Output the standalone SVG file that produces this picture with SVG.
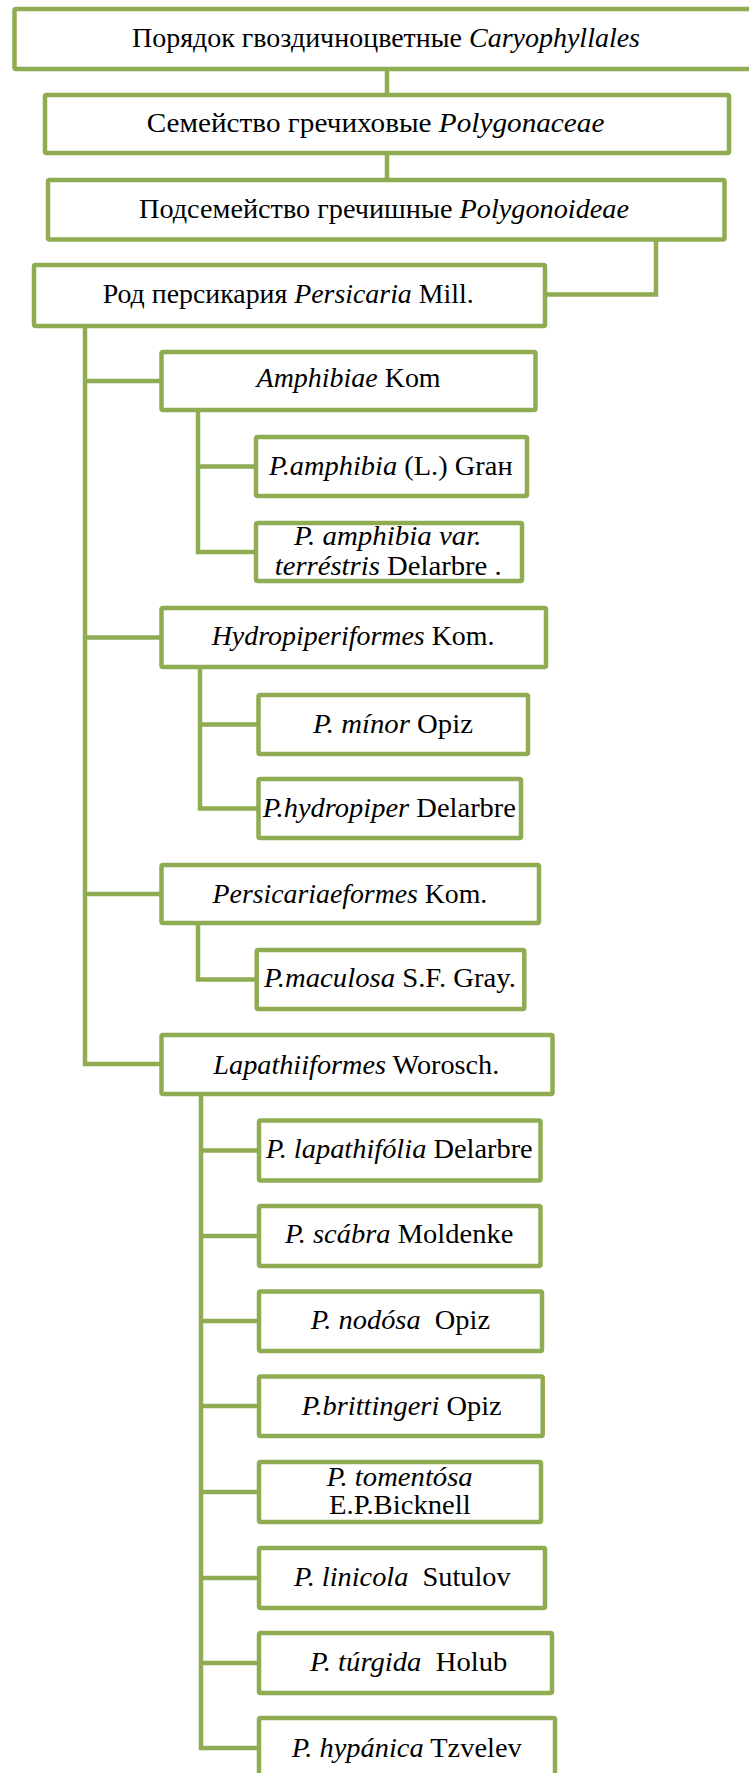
<svg xmlns="http://www.w3.org/2000/svg" width="749" height="1773" viewBox="0 0 749 1773">
<style>
.box{fill:#fff;stroke:#8FAC52;stroke-width:4.5}
.ln{fill:none;stroke:#8FAC52;stroke-width:4.5;stroke-linejoin:miter}
text{font-family:"Liberation Serif","Times New Roman",serif;font-size:28px;fill:#000}
.i{font-style:italic}
</style>
<rect width="749" height="1773" fill="#fff"/>
<g id="connectors">
<path class="ln" d="M387,69V95M387,153V180M656,239.5V294.5H545"/>
<path class="ln" d="M85,326V1064H162M85,381H162M85,637.5H162M85,894H162"/>
<path class="ln" d="M198,410V552H256M198,466.5H256"/>
<path class="ln" d="M200,667V808.5H258.5M200,724.5H258.5"/>
<path class="ln" d="M198,923V979.5H256.7"/>
<path class="ln" d="M201,1094V1748H259M201,1150.5H259M201,1236H259M201,1321H259M201,1406H259M201,1492H259M201,1578H259M201,1663H259"/>
</g>
<g id="order"><rect class="box" x="14.5" y="9" width="750" height="60" rx="1.5"/><text x="132" y="46.7" textLength="508" lengthAdjust="spacingAndGlyphs">Порядок гвоздичноцветные <tspan class="i">Caryophyllales</tspan></text></g>
<g id="family"><rect class="box" x="45" y="95" width="684" height="58" rx="1.5"/><text x="146.7" y="132" textLength="457.7" lengthAdjust="spacingAndGlyphs">Семейство гречиховые <tspan class="i">Polygonaceae</tspan></text></g>
<g id="subfamily"><rect class="box" x="48" y="180" width="676.5" height="59.5" rx="1.5"/><text x="139" y="217.5" textLength="490" lengthAdjust="spacingAndGlyphs">Подсемейство гречишные <tspan class="i">Polygonoideae</tspan></text></g>
<g id="genus"><rect class="box" x="34" y="265" width="511" height="61" rx="1.5"/><text x="102.7" y="303.3" textLength="371" lengthAdjust="spacingAndGlyphs">Род персикария <tspan class="i">Persicaria</tspan> Mill.</text></g>
<g id="amphibiae"><rect class="box" x="161.5" y="352" width="374" height="58" rx="1.5"/><text x="256.6" y="387.3" textLength="184" lengthAdjust="spacingAndGlyphs"><tspan class="i">Amphibiae</tspan> Kom</text></g>
<g id="p-amphibia"><rect class="box" x="256" y="437" width="271" height="59" rx="1.5"/><text x="269" y="475" textLength="243.6" lengthAdjust="spacingAndGlyphs"><tspan class="i">P.amphibia</tspan> (L.) Graн</text></g>
<g id="p-amphibia-var"><rect class="box" x="256" y="523" width="266" height="58" rx="1.5"/><text x="294" y="545" textLength="187.6" lengthAdjust="spacingAndGlyphs" class="i">P. amphibia var.</text><text x="274.7" y="575" textLength="227" lengthAdjust="spacingAndGlyphs"><tspan class="i">terréstris</tspan> Delarbre .</text></g>
<g id="hydropiperiformes"><rect class="box" x="161.5" y="608" width="384.5" height="59" rx="1.5"/><text x="211.7" y="645" textLength="282.8" lengthAdjust="spacingAndGlyphs"><tspan class="i">Hydropiperiformes</tspan> Kom.</text></g>
<g id="p-minor"><rect class="box" x="258.5" y="695" width="269.5" height="59" rx="1.5"/><text x="313" y="732.7" textLength="160" lengthAdjust="spacingAndGlyphs"><tspan class="i">P. mínor</tspan> Opiz</text></g>
<g id="p-hydropiper"><rect class="box" x="258.5" y="779" width="262.5" height="59" rx="1.5"/><text x="262.8" y="816.7" textLength="253.2" lengthAdjust="spacingAndGlyphs"><tspan class="i">P.hydropiper</tspan> Delarbre</text></g>
<g id="persicariaeformes"><rect class="box" x="161.5" y="865" width="377.5" height="58" rx="1.5"/><text x="212.6" y="902.7" textLength="274.7" lengthAdjust="spacingAndGlyphs"><tspan class="i">Persicariaeformes</tspan> Kom.</text></g>
<g id="p-maculosa"><rect class="box" x="256.7" y="950" width="267.6" height="59" rx="1.5"/><text x="264" y="987" textLength="252" lengthAdjust="spacingAndGlyphs"><tspan class="i">P.maculosa</tspan> S.F. Gray.</text></g>
<g id="lapathiiformes"><rect class="box" x="161.5" y="1035" width="391" height="59" rx="1.5"/><text x="213.3" y="1074" textLength="286" lengthAdjust="spacingAndGlyphs"><tspan class="i">Lapathiiformes</tspan> Worosch.</text></g>
<g id="p-lapathifolia"><rect class="box" x="259" y="1120.5" width="281.5" height="60" rx="1.5"/><text x="266" y="1157.7" textLength="266.7" lengthAdjust="spacingAndGlyphs"><tspan class="i">P. lapathifólia</tspan> Delarbre</text></g>
<g id="p-scabra"><rect class="box" x="259" y="1206" width="281.5" height="60" rx="1.5"/><text x="285" y="1243.3" textLength="228.3" lengthAdjust="spacingAndGlyphs"><tspan class="i">P. scábra</tspan> Moldenke</text></g>
<g id="p-nodosa"><rect class="box" x="259" y="1291.5" width="283" height="59.5" rx="1.5"/><text xml:space="preserve" x="310.7" y="1329" textLength="179.3" lengthAdjust="spacingAndGlyphs"><tspan class="i">P. nodósa</tspan>  Opiz</text></g>
<g id="p-brittingeri"><rect class="box" x="259" y="1376.5" width="283.7" height="59.5" rx="1.5"/><text x="301.7" y="1415" textLength="200" lengthAdjust="spacingAndGlyphs"><tspan class="i">P.brittingeri</tspan> Opiz</text></g>
<g id="p-tomentosa"><rect class="box" x="259" y="1462" width="282" height="60" rx="1.5"/><text x="326.7" y="1486" textLength="146" lengthAdjust="spacingAndGlyphs" class="i">P. tomentósa</text><text x="329" y="1514.3" textLength="141.7" lengthAdjust="spacingAndGlyphs">E.P.Bicknell</text></g>
<g id="p-linicola"><rect class="box" x="259" y="1548" width="286" height="60" rx="1.5"/><text xml:space="preserve" x="294" y="1585.7" textLength="216.7" lengthAdjust="spacingAndGlyphs"><tspan class="i">P. linicola</tspan>  Sutulov</text></g>
<g id="p-turgida"><rect class="box" x="259" y="1633" width="293" height="60" rx="1.5"/><text xml:space="preserve" x="310" y="1670.7" textLength="197.3" lengthAdjust="spacingAndGlyphs"><tspan class="i">P. túrgida</tspan>  Holub</text></g>
<g id="p-hypanica"><rect class="box" x="259" y="1718" width="296" height="60" rx="1.5"/><text x="291.7" y="1757" textLength="230" lengthAdjust="spacingAndGlyphs"><tspan class="i">P. hypánica</tspan> Tzvelev</text></g>
</svg>
